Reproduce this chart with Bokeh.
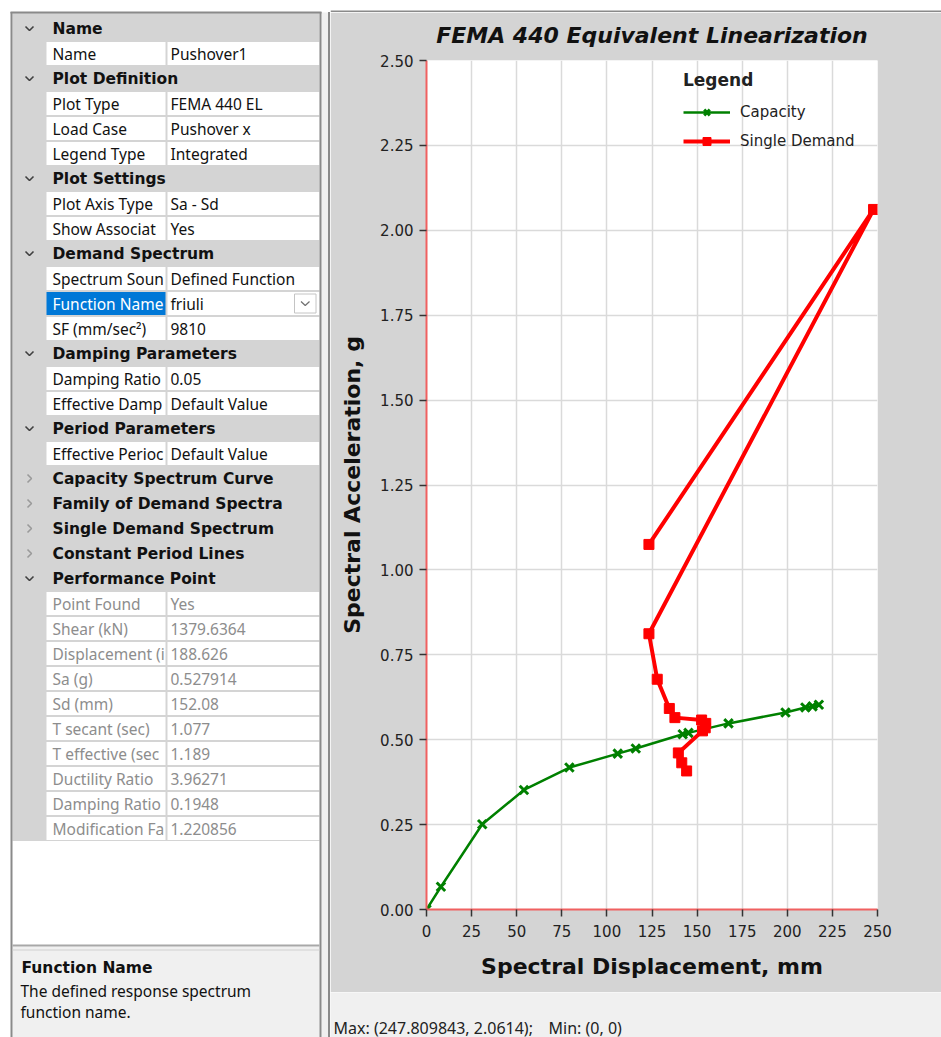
from bokeh.plotting import figure
from bokeh.models import (Range1d, FixedTicker, NumeralTickFormatter, Legend,
                          LegendItem, ColumnDataSource)
from bokeh.layouts import row, column
from bokeh.embed import file_html
from bokeh.resources import INLINE
from bokeh.core.properties import value

# ---------------------------------------------------------------- data
# capacity spectrum curve (Sd in mm, Sa in g)
capacity_sd = [0.0, 8.0, 30.9, 54.0, 79.2, 106.0, 116.0, 142.0, 145.2, 167.4, 199.0, 210.0, 214.0, 217.5]
capacity_sa = [0.0, 0.067, 0.251, 0.352, 0.418, 0.459, 0.474, 0.516, 0.520, 0.548, 0.580, 0.595, 0.598, 0.603]

# single demand spectrum (Sd in mm, Sa in g)
demand_sd = [123.3, 247.809843, 123.3, 127.9, 134.6, 137.7, 152.5, 154.8, 154.5, 153.0, 139.6, 141.5, 144.2]
demand_sa = [1.075, 2.0614, 0.812, 0.678, 0.592, 0.565, 0.558, 0.548, 0.535, 0.526, 0.461, 0.432, 0.408]

x_ticks = [0, 25, 50, 75, 100, 125, 150, 175, 200, 225, 250]
y_ticks = [0.0, 0.25, 0.5, 0.75, 1.0, 1.25, 1.5, 1.75, 2.0, 2.25, 2.5]

# property grid content: (kind, name, value)
grid_rows = [
    ("cat", "Name", None),
    ("prop", "Name", "Pushover1"),
    ("cat", "Plot Definition", None),
    ("prop", "Plot Type", "FEMA 440 EL"),
    ("prop", "Load Case", "Pushover x"),
    ("prop", "Legend Type", "Integrated"),
    ("cat", "Plot Settings", None),
    ("prop", "Plot Axis Type", "Sa - Sd"),
    ("prop", "Show Associat", "Yes"),
    ("cat", "Demand Spectrum", None),
    ("prop", "Spectrum Soun", "Defined Function"),
    ("sel", "Function Name", "friuli"),
    ("prop", "SF (mm/sec\u00b2)", "9810"),
    ("cat", "Damping Parameters", None),
    ("prop", "Damping Ratio", "0.05"),
    ("prop", "Effective Damp", "Default Value"),
    ("cat", "Period Parameters", None),
    ("prop", "Effective Perioc", "Default Value"),
    ("closed", "Capacity Spectrum Curve", None),
    ("closed", "Family of Demand Spectra", None),
    ("closed", "Single Demand Spectrum", None),
    ("closed", "Constant Period Lines", None),
    ("cat", "Performance Point", None),
    ("ro", "Point Found", "Yes"),
    ("ro", "Shear (kN)", "1379.6364"),
    ("ro", "Displacement (i", "188.626"),
    ("ro", "Sa (g)", "0.527914"),
    ("ro", "Sd (mm)", "152.08"),
    ("ro", "T secant (sec)", "1.077"),
    ("ro", "T effective (sec", "1.189"),
    ("ro", "Ductility Ratio", "3.96271"),
    ("ro", "Damping Ratio", "0.1948"),
    ("ro", "Modification Fa", "1.220856"),
]

help_title = "Function Name"
help_lines = ["The defined response spectrum", "function name."]

UI_FONT = "Noto Sans"
UI_BOLD = "DejaVu Sans"
CHART_FONT = "DejaVu Sans"
GRAY = "#d4d4d4"
BORDER = "#8a8a8a"

# ---------------------------------------------------------------- left: property grid
left = figure(width=330, height=1037, x_range=Range1d(0, 330), y_range=Range1d(1037, 0),
              toolbar_location=None, output_backend="svg", min_border=0,
              x_axis_location=None, y_axis_location=None, outline_line_color=None,
              background_fill_color="white", border_fill_color="white")
left.grid.visible = False

ROW_TOP = 15.5
ROW_H = 25.0
n = len(grid_rows)
grid_bottom = ROW_TOP + ROW_H * n

# panel backgrounds
left.quad(left=[12], right=[319], top=[12], bottom=[grid_bottom], fill_color=GRAY, line_color=None)
left.quad(left=[12], right=[319], top=[946], bottom=[1037], fill_color="#f0f0f0", line_color=None)
left.quad(left=[321], right=[327.5], top=[12], bottom=[1037], fill_color="#f0f0f0", line_color=None)

# property cells
name_cells = dict(left=[], right=[], top=[], bottom=[], color=[])
value_cells = dict(left=[], right=[], top=[], bottom=[])
for i, (kind, nm, val) in enumerate(grid_rows):
    t = ROW_TOP + ROW_H * i
    if kind in ("prop", "sel", "ro"):
        name_cells["left"].append(46); name_cells["right"].append(165)
        name_cells["top"].append(t + 1); name_cells["bottom"].append(t + ROW_H - 1)
        name_cells["color"].append("#0078d7" if kind == "sel" else "white")
        value_cells["left"].append(167); value_cells["right"].append(319)
        value_cells["top"].append(t + 1); value_cells["bottom"].append(t + ROW_H - 1)
left.quad(source=ColumnDataSource(name_cells), left="left", right="right", top="top",
          bottom="bottom", fill_color="color", line_color=None)

# name texts (drawn before value cells so long names are cut at the cell edge)
nx, ny, nt, nc = [], [], [], []
hx, hy, ht = [], [], []
for i, (kind, nm, val) in enumerate(grid_rows):
    yc = ROW_TOP + ROW_H * i + ROW_H / 2
    if kind in ("cat", "closed"):
        hx.append(52); hy.append(yc); ht.append(nm)
    else:
        nx.append(52); ny.append(yc); nt.append(nm)
        nc.append({"sel": "white", "ro": "#8d8d8d"}.get(kind, "#111111"))
left.text(x=nx, y=ny, text=nt, text_color=nc, text_font=value(UI_FONT),
          text_font_size="15.5px", text_baseline="middle")
left.text(x=hx, y=hy, text=ht, text_color="#111111", text_font=value(UI_BOLD),
          text_font_size="15.5px", text_font_style="bold", text_baseline="middle")

left.quad(source=ColumnDataSource(value_cells), left="left", right="right", top="top",
          bottom="bottom", fill_color="white", line_color=None)

vx, vy, vt, vc = [], [], [], []
for i, (kind, nm, val) in enumerate(grid_rows):
    if val is None:
        continue
    yc = ROW_TOP + ROW_H * i + ROW_H / 2
    vx.append(170); vy.append(yc); vt.append(val)
    vc.append("#8d8d8d" if kind == "ro" else "#111111")
left.text(x=vx, y=vy, text=vt, text_color=vc, text_font=value(UI_FONT),
          text_font_size="15.5px", text_baseline="middle")

# expand / collapse chevrons
open_x, open_y, shut_x, shut_y = [], [], [], []
for i, (kind, nm, val) in enumerate(grid_rows):
    yc = ROW_TOP + ROW_H * i + ROW_H / 2
    if kind == "cat":
        open_x.append([25, 29, 33]); open_y.append([yc - 2, yc + 2, yc - 2])
    elif kind == "closed":
        shut_x.append([27, 31, 27]); shut_y.append([yc - 4, yc, yc + 4])
left.multi_line(xs=open_x, ys=open_y, line_color="#404040", line_width=1.6)
left.multi_line(xs=shut_x, ys=shut_y, line_color="#9a9a9a", line_width=1.6)

# drop-down button on the selected row
sel_i = [k for k, r in enumerate(grid_rows) if r[0] == "sel"][0]
sel_t = ROW_TOP + ROW_H * sel_i
left.quad(left=[294], right=[315.5], top=[sel_t + 3], bottom=[sel_t + ROW_H - 3],
          fill_color="white", line_color="#c4c4c4", line_width=1)
left.line(x=[300.5, 304.75, 309], y=[sel_t + 10.5, sel_t + 14.5, sel_t + 10.5],
          line_color="#707070", line_width=1.2)

# borders and separators
left.line(x=[11, 11], y=[11.5, 1037], line_color=BORDER, line_width=2)
left.line(x=[320, 320], y=[11.5, 1037], line_color=BORDER, line_width=2)
left.line(x=[10, 321], y=[12, 12], line_color=BORDER, line_width=2)
left.line(x=[12, 319], y=[945, 945], line_color="#a8a8a8", line_width=2)
left.line(x=[12, 319], y=[949.5, 949.5], line_color="#d0d0d0", line_width=1)
left.line(x=[328.5, 328.5], y=[11.5, 1037], line_color=BORDER, line_width=2)

# help box
left.text(x=[21], y=[967], text=[help_title], text_color="#111111", text_font=value(UI_BOLD),
          text_font_size="15.5px", text_font_style="bold", text_baseline="middle")
left.text(x=[20] * len(help_lines), y=[990 + 21 * k for k in range(len(help_lines))],
          text=help_lines, text_color="#111111", text_font=value(UI_FONT),
          text_font_size="15.5px", text_baseline="middle")

# ---------------------------------------------------------------- right: chart
top_strip = figure(width=611, height=12, x_range=Range1d(0, 611), y_range=Range1d(12, 0),
                   toolbar_location=None, output_backend="svg", min_border=0,
                   x_axis_location=None, y_axis_location=None, outline_line_color=None,
                   background_fill_color="white", border_fill_color="white")
top_strip.grid.visible = False
top_strip.line(x=[0, 611], y=[11, 11], line_color=BORDER, line_width=2)

p = figure(width=611, height=980, x_range=Range1d(0, 250), y_range=Range1d(0, 2.5),
           toolbar_location=None, output_backend="svg",
           min_border_left=96, min_border_right=64, min_border_top=48, min_border_bottom=83,
           background_fill_color="white", border_fill_color=GRAY, outline_line_color=None,
           title="FEMA 440 Equivalent Linearization")
p.title.text_font = CHART_FONT
p.title.text_font_size = "22px"
p.title.text_font_style = "bold italic"
p.title.text_color = "#111111"
p.title.align = "center"
p.title.vertical_align = "top"
p.title.standoff = 21

p.xaxis.ticker = FixedTicker(ticks=x_ticks)
p.yaxis.ticker = FixedTicker(ticks=y_ticks)
p.yaxis.formatter = NumeralTickFormatter(format="0.00")
p.xaxis.axis_label = "Spectral Displacement, mm"
p.yaxis.axis_label = "Spectral Acceleration, g"
for ax in (p.xaxis, p.yaxis):
    ax.axis_line_color = "#f06060"
    ax.axis_line_width = 2
    ax.major_tick_line_color = "#333333"
    ax.major_tick_line_width = 1.5
    ax.major_tick_in = 0
    ax.major_tick_out = 7
    ax.minor_tick_line_color = None
    ax.major_label_text_font = CHART_FONT
    ax.major_label_text_font_size = "15px"
    ax.major_label_text_color = "#222222"
    ax.axis_label_text_font = CHART_FONT
    ax.axis_label_text_font_size = "22px"
    ax.axis_label_text_font_style = "bold"
    ax.axis_label_text_color = "#111111"
    ax.axis_label_standoff = 12
p.xaxis.axis_label_standoff = 14
p.xaxis.major_label_standoff = 8
p.yaxis.major_label_standoff = 6
p.grid.grid_line_color = "#dadada"
p.grid.grid_line_width = 1.5

cap_line = p.line(capacity_sd, capacity_sa, line_color="#008000", line_width=2.5)
cap_pts = p.scatter(capacity_sd, capacity_sa, marker="x", size=12, line_color="#008000", line_width=3)
dem_line = p.line(demand_sd, demand_sa, line_color="#ff0000", line_width=4)
dem_pts = p.scatter(demand_sd, demand_sa, marker="square", size=10, fill_color="#ff0000", line_color="#ff0000")

legend = Legend(items=[LegendItem(label="Capacity", renderers=[cap_line, cap_pts]),
                       LegendItem(label="Single Demand", renderers=[dem_line, dem_pts])],
                title="Legend", location=(257, 758), padding=0, margin=0,
                border_line_color=None, background_fill_alpha=0,
                glyph_width=47, glyph_height=20, label_height=20, spacing=9,
                label_standoff=10, title_standoff=12)
legend.title_text_font = CHART_FONT
legend.title_text_font_size = "17px"
legend.title_text_font_style = "bold"
legend.title_text_color = "#222222"
legend.label_text_font = CHART_FONT
legend.label_text_font_size = "15px"
legend.label_text_color = "#222222"
p.add_layout(legend)

# status line with the extreme values of the plotted data
all_x = capacity_sd + demand_sd
all_y = capacity_sa + demand_sa
max_text = "Max: ({:.6f}, {:.4f});".format(max(all_x), max(all_y))
min_text = "Min: ({:g}, {:g})".format(min(all_x), min(all_y))

status = figure(width=611, height=45, x_range=Range1d(0, 611), y_range=Range1d(45, 0),
                toolbar_location=None, output_backend="svg", min_border=0,
                x_axis_location=None, y_axis_location=None, outline_line_color=None,
                background_fill_color="#f0f0f0", border_fill_color="#f0f0f0")
status.grid.visible = False
status.text(x=[3, 218], y=[35, 35], text=[max_text, min_text], text_color="#222222",
            text_font=value(UI_FONT), text_font_size="16px", text_baseline="middle")

layout = row(left, column(row(top_strip), p, row(status), spacing=0), spacing=0)

open("out.html", "w").write(file_html(layout, INLINE))
